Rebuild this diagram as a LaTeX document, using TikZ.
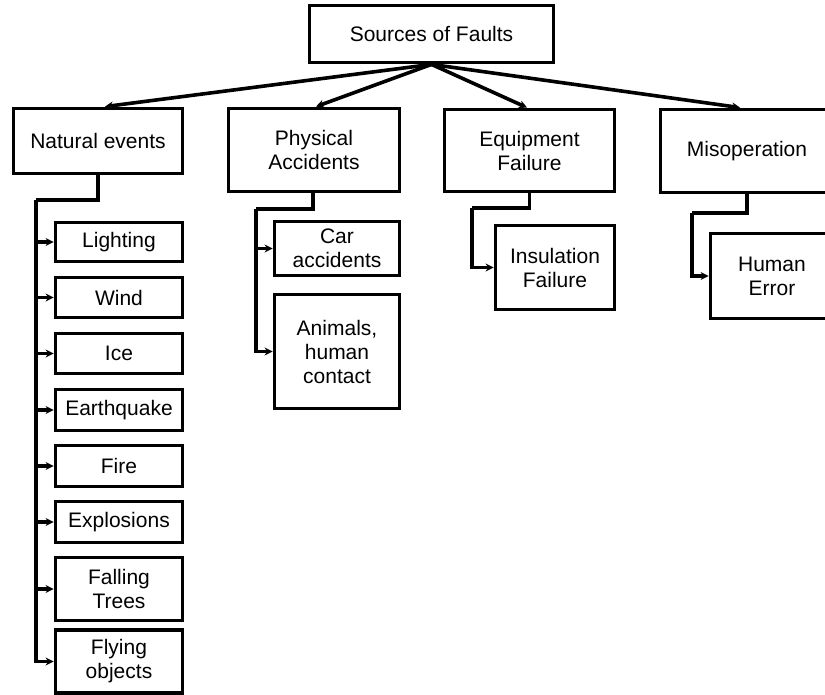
\documentclass[tikz,border=0pt]{standalone}
\usepackage{fontspec}
\setmainfont{Liberation Sans}
\usetikzlibrary{arrows.meta}
\begin{document}
\begin{tikzpicture}[x=1pt,y=-1pt,
  every node/.style={font=\fontsize{21}{24}\selectfont, align=center, inner sep=0pt},
  box/.style={draw, line width=3.8pt, rectangle},
  link/.style={line width=3.6pt, -{Stealth[length=8pt,width=8pt]}},
  bus/.style={line width=3.6pt}]
\useasboundingbox (0,0) rectangle (825,695);
\clip (0,0) rectangle (825,695);

% top level
\node[box, minimum width=244pt, minimum height=57pt] (root) at (431.5,34) {Sources of Faults};
\node[box, minimum width=169pt, minimum height=65pt] (nat) at (98,141) {Natural events};
\node[box, minimum width=171pt, minimum height=83pt] (phys) at (314,150) {Physical\\Accidents};
\node[box, minimum width=170pt, minimum height=82pt] (equip) at (529.5,150.5) {Equipment\\Failure};
\node[box, minimum width=173pt, minimum height=83pt] (misop) at (747,151) {Misoperation};

% natural events
\node[box, minimum width=127pt, minimum height=39pt] (light) at (119,242) {Lighting};
\node[box, minimum width=127pt, minimum height=40pt] (wind) at (119,297.5) {Wind};
\node[box, minimum width=127pt, minimum height=40pt] (ice) at (119,353.5) {Ice};
\node[box, minimum width=127pt, minimum height=41pt] (quake) at (119,410) {Earthquake};
\node[box, minimum width=127pt, minimum height=41pt] (fire) at (119,466) {Fire};
\node[box, minimum width=127pt, minimum height=41pt] (expl) at (119,522) {Explosions};
\node[box, minimum width=127pt, minimum height=63pt] (trees) at (119,589) {Falling\\Trees};
\node[box, minimum width=127pt, minimum height=63pt] (flying) at (119,661.5) {Flying\\objects};

% physical accidents
\node[box, minimum width=125pt, minimum height=54pt] (car) at (337,248.5) {Car\\accidents};
\node[box, minimum width=125pt, minimum height=114pt] (anim) at (337,351.5) {Animals,\\human\\contact};

% equipment failure
\node[box, minimum width=119pt, minimum height=84pt] (insul) at (555,267.5) {Insulation\\Failure};

% misoperation
\node[box, minimum width=123pt, minimum height=85pt] (human) at (772,276) {Human\\Error};

% branches from the root
\draw[link] (root.south) -- ([xshift=7pt]nat.north);
\draw[link] (root.south) -- ([xshift=2pt]phys.north);
\draw[link] (root.south) -- ([xshift=-2.5pt]equip.north);
\draw[link] (root.south) -- ([xshift=-7pt]misop.north);

% natural events bus
\coordinate (natbus) at (36,200);
\draw[bus] (nat.south) |- (natbus);
\foreach \n in {light,wind,ice,quake,fire,expl,trees,flying}
  \draw[link] (natbus) |- (\n.west);

% physical accidents bus
\coordinate (physbus) at (256,209);
\draw[bus] ([xshift=-1pt]phys.south) |- (physbus);
\draw[link] (physbus) |- (car.west);
\draw[link] (physbus) |- (anim.west);

% equipment failure bus
\coordinate (equipbus) at (472,208);
\draw[bus] (equip.south) |- (equipbus);
\draw[link] (equipbus) |- (insul.west);

% misoperation bus
\coordinate (misopbus) at (692,213);
\draw[bus] (misop.south) |- (misopbus);
\draw[link] (misopbus) |- (human.west);
\end{tikzpicture}
\end{document}
